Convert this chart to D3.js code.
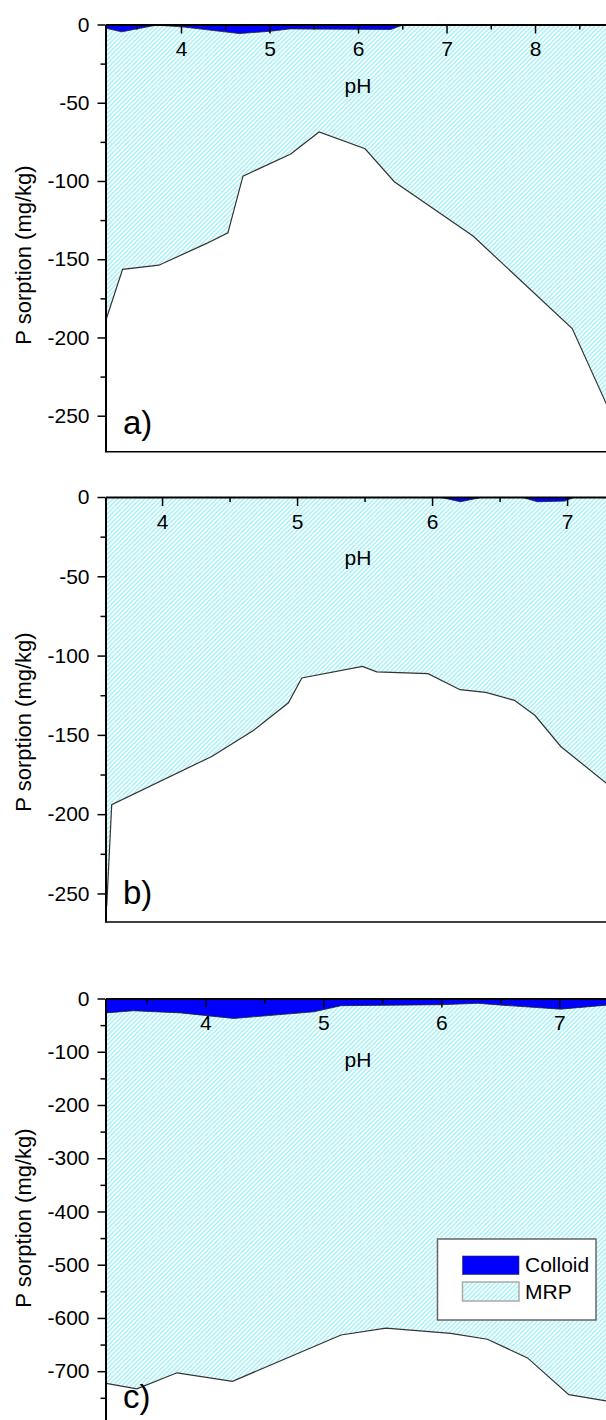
<!DOCTYPE html>
<html>
<head>
<meta charset="utf-8">
<script src="https://cdnjs.cloudflare.com/ajax/libs/d3/7.8.5/d3.min.js"></script>
<style>
  body { margin: 0; background: #fff; }
  svg text { font-family: "Liberation Sans", Arial, sans-serif; fill: #000; }
</style>
</head>
<body>
<svg id="chart" width="606" height="1420"></svg>
<script>
// ---- data ----
// panel a
var phTotalA   = [3.14, 3.34, 3.75, 4.29, 4.53, 4.70, 5.24, 5.56, 6.08, 6.41, 7.30, 8.42, 8.85];
var sorptionA  = [-191, -156.5, -153.8, -139.9, -133.1, -96.9, -82.8, -68.7, -79.4, -100.5, -135.2, -194.3, -248];
var phColloidA = [3.13, 3.33, 3.72, 4.01, 4.66, 5.01, 5.23, 6.37, 6.52, 7.00, 7.24, 7.41, 8.9];
var colloidA   = [-2.1, -4.7, -0.4, -1.5, -5.8, -4.3, -2.8, -3.2, 0, 0, -0.7, 0, 0];
// panel b
var phTotalB   = [3.59, 3.627, 4.368, 4.676, 4.936, 5.035, 5.484, 5.59, 5.97, 6.207, 6.398, 6.61, 6.763, 6.953, 7.289, 7.40];
var sorptionB  = [-258, -194.0, -163.6, -147.3, -129.8, -114.1, -106.8, -110.3, -111.4, -121.5, -123.2, -128.2, -137.8, -157.3, -180.4, -188];
var phColloidB = [3.58, 6.05, 6.21, 6.38, 6.66, 6.78, 6.98, 7.06, 7.40];
var colloidB   = [0, 0, -3, 0, 0, -3, -2.6, 0, 0];
// panel c
var phTotalC   = [3.16, 3.42, 3.76, 4.23, 5.15, 5.53, 6.08, 6.39, 6.73, 7.08, 7.40, 7.52];
var sorptionC  = [-723, -733, -703, -719, -632, -619, -629, -640, -675, -744, -756, -760];
var phColloidC = [3.16, 3.39, 3.79, 4.24, 4.92, 5.15, 6.00, 6.31, 6.51, 7.01, 7.40, 7.52];
var colloidC   = [-27, -23, -27, -37.5, -25, -13.5, -11.6, -9, -12.5, -20, -12.5, -11];

// tick labels
var xTicksA = [4, 5, 6, 7, 8],   xMinorA = [3.5, 4.5, 5.5, 6.5, 7.5, 8.5];
var xTicksB = [4, 5, 6, 7],      xMinorB = [4.5, 5.5, 6.5];
var xTicksC = [4, 5, 6, 7],      xMinorC = [3.5, 4.5, 5.5, 6.5, 7.5];
var yTicksA = [0, -50, -100, -150, -200, -250], yMinorA = [-25, -75, -125, -175, -225];
var yTicksB = [0, -50, -100, -150, -200, -250], yMinorB = [-25, -75, -125, -175, -225];
var yTicksC = [0, -100, -200, -300, -400, -500, -600, -700], yMinorC = [-50, -150, -250, -350, -450, -550, -650, -750];

var seriesNames = ["Colloid", "MRP"];
var panelLabels = ["a)", "b)", "c)"];

// ---- layout ----
var width = 606;
var plotLeft = 105.5, plotRight = 620;
var plainNum = function(d) { return String(d); };   // hyphen minus like the original

var panels = [
  { label: panelLabels[0], xDom: [3.147, 8.96], yDom: [-273, 0], top: 24.5, bottom: 451.7, titleY: 255,
    phT: phTotalA, tot: sorptionA, phC: phColloidA, col: colloidA,
    xt: xTicksA, xm: xMinorA, yt: yTicksA, ym: yMinorA },
  { label: panelLabels[1], xDom: [3.581, 7.392], yDom: [-268, 0], top: 497, bottom: 922, titleY: 722,
    phT: phTotalB, tot: sorptionB, phC: phColloidB, col: colloidB,
    xt: xTicksB, xm: xMinorB, yt: yTicksB, ym: yMinorB },
  { label: panelLabels[2], xDom: [3.154, 7.514], yDom: [-802, 0], top: 998.5, bottom: 1425.5, titleY: 1218,
    phT: phTotalC, tot: sorptionC, phC: phColloidC, col: colloidC,
    xt: xTicksC, xm: xMinorC, yt: yTicksC, ym: yMinorC }
];

var svg = d3.select("#chart");
var defs = svg.append("defs");

// hatch for MRP
var pat = defs.append("pattern")
  .attr("id", "hatch")
  .attr("patternUnits", "userSpaceOnUse")
  .attr("width", 4.5).attr("height", 4.5);
pat.append("rect").attr("width", 4.5).attr("height", 4.5).attr("fill", "#fff");
pat.append("path")
  .attr("d", "M-1,1 l2,-2 M0,4.5 l4.5,-4.5 M3.5,5.5 l2,-2")
  .attr("stroke", "#9aeef3")
  .attr("stroke-width", 1.35);

panels.forEach(function(p, i) {
  var x = d3.scaleLinear().domain(p.xDom).range([plotLeft, plotRight]);
  var y = d3.scaleLinear().domain(p.yDom).range([p.bottom, p.top]);

  defs.append("clipPath").attr("id", "clip" + i)
    .append("rect")
    .attr("x", plotLeft).attr("y", p.top)
    .attr("width", plotRight - plotLeft).attr("height", p.bottom - p.top);

  var g = svg.append("g").attr("clip-path", "url(#clip" + i + ")");

  var totData = p.phT.map(function(d, k) { return [d, p.tot[k]]; });
  var colData = p.phC.map(function(d, k) { return [d, p.col[k]]; });

  // MRP (hatched) from 0 down to cumulative sorption
  g.append("path")
    .datum(totData)
    .attr("fill", "url(#hatch)")
    .attr("d", d3.area().x(function(d) { return x(d[0]); }).y0(y(0)).y1(function(d) { return y(d[1]); }));
  g.append("path")
    .datum(totData)
    .attr("fill", "none")
    .attr("stroke", "#333")
    .attr("stroke-width", 1.2)
    .attr("d", d3.line().x(function(d) { return x(d[0]); }).y(function(d) { return y(d[1]); }));

  // Colloid (blue) on top
  g.append("path")
    .datum(colData)
    .attr("fill", "#0000ff")
    .attr("d", d3.area().x(function(d) { return x(d[0]); }).y0(y(0)).y1(function(d) { return y(d[1]); }));
  g.append("path")
    .datum(colData)
    .attr("fill", "none")
    .attr("stroke", "#222")
    .attr("stroke-width", 0.8)
    .attr("d", d3.line().x(function(d) { return x(d[0]); }).y(function(d) { return y(d[1]); }));

  // bottom frame
  svg.append("line")
    .attr("x1", plotLeft).attr("x2", width)
    .attr("y1", p.bottom).attr("y2", p.bottom)
    .attr("stroke", "#000").attr("stroke-width", 1.5);

  // x axis at y = 0, ticks pointing into the plot
  svg.append("g")
    .attr("transform", "translate(0," + y(0) + ")")
    .call(d3.axisBottom(x).tickValues(p.xt).tickSize(9).tickSizeOuter(0).tickPadding(8).tickFormat(plainNum));
  svg.append("g")
    .attr("transform", "translate(0," + y(0) + ")")
    .call(d3.axisBottom(x).tickValues(p.xm).tickSize(5).tickSizeOuter(0).tickFormat(""))
    .select(".domain").remove();

  // y axis
  svg.append("g")
    .attr("transform", "translate(" + plotLeft + ",0)")
    .call(d3.axisLeft(y).tickValues(p.yt).tickSize(8).tickSizeOuter(0).tickPadding(8).tickFormat(plainNum));
  svg.append("g")
    .attr("transform", "translate(" + plotLeft + ",0)")
    .call(d3.axisLeft(y).tickValues(p.ym).tickSize(5).tickSizeOuter(0).tickFormat(""))
    .select(".domain").remove();

  svg.selectAll(".domain").attr("stroke-width", 2).attr("stroke", "#000");
  svg.selectAll(".tick line").attr("stroke-width", 1.5).attr("stroke", "#000");
  svg.selectAll(".tick text").style("font-size", "21px").attr("fill", "#000")
    .style("font-family", "'Liberation Sans', Arial, sans-serif");

  // axis titles
  svg.append("text")
    .attr("x", 358).attr("y", y(0) + 68)
    .attr("text-anchor", "middle")
    .style("font-size", "21px")
    .text("pH");
  svg.append("text")
    .attr("transform", "translate(31," + p.titleY + ") rotate(-90)")
    .attr("text-anchor", "middle")
    .style("font-size", "22px")
    .text("P sorption (mg/kg)");

  // panel label
  svg.append("text")
    .attr("x", 123).attr("y", p.bottom - 18)
    .style("font-size", "33px")
    .text(p.label);
});

// legend in panel c
var lg = svg.append("g");
lg.append("rect")
  .attr("x", 437.5).attr("y", 1239).attr("width", 158.5).attr("height", 81)
  .attr("fill", "#fff").attr("stroke", "#666").attr("stroke-width", 1.5);
lg.append("rect")
  .attr("x", 462.5).attr("y", 1256).attr("width", 56.5).attr("height", 18.5)
  .attr("fill", "#0000ff").attr("stroke", "#333").attr("stroke-width", 0.6);
lg.append("rect")
  .attr("x", 462.5).attr("y", 1282).attr("width", 56.5).attr("height", 19)
  .attr("fill", "url(#hatch)").attr("stroke", "#aaa").attr("stroke-width", 1.5);
lg.selectAll("text.lg")
  .data(seriesNames)
  .enter().append("text")
  .attr("class", "lg")
  .attr("x", 525)
  .attr("y", function(d, i) { return 1272 + i * 27; })
  .style("font-size", "21px")
  .text(function(d) { return d; });
</script>
</body>
</html>
